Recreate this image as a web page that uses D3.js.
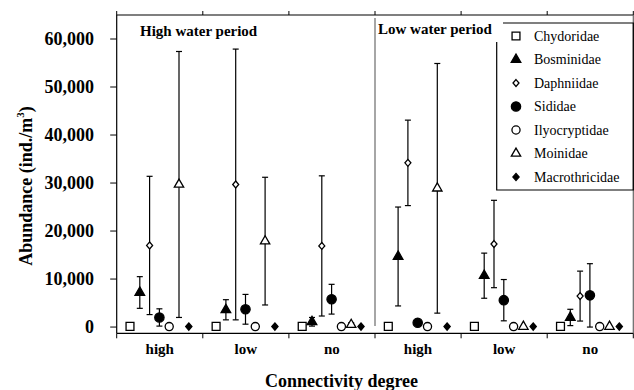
<!DOCTYPE html>
<html>
<head>
<meta charset="utf-8">
<script src="https://cdn.jsdelivr.net/npm/d3@7"></script>
<style>
  body { margin: 0; background: #fff; }
  svg { display: block; font-family: "Liberation Serif", "Times New Roman", serif; }
</style>
</head>
<body>
<div id="chart"></div>
<script>
// categories
const periods = ["High water period", "Low water period"];
const connectivity = ["high", "low", "no"];
const families = ["Chydoridae", "Bosminidae", "Daphniidae", "Sididae", "Ilyocryptidae", "Moinidae", "Macrothricidae"];
const yTicks = [0, 10000, 20000, 30000, 40000, 50000, 60000];

// mean abundance per group: HW high, HW low, HW no, LW high, LW low, LW no
const chydoridaeMean     = [150, 150, 150, 150, 150, 150];
const chydoridaeErr      = [0, 0, 0, 0, 0, 0];
const bosminidaeMean     = [7200, 3600, 1100, 14700, 10700, 2000];
const bosminidaeErr      = [3300, 2100, 900, 10300, 4700, 1700];
const daphniidaeMean     = [17000, 29700, 16900, 34200, 17300, 6450];
const daphniidaeErr      = [14400, 28200, 14600, 8900, 9100, 5200];
const sididaeMean        = [2000, 3700, 5800, 900, 5600, 6600];
const sididaeErr         = [1800, 3100, 3100, 0, 4300, 6600];
const ilyocryptidaeMean  = [100, 100, 100, 100, 100, 100];
const ilyocryptidaeErr   = [0, 0, 0, 0, 0, 0];
const moinidaeMean       = [29700, 17900, 500, 28900, 100, 100];
const moinidaeErr        = [27700, 13300, 400, 26000, 0, 0];
const macrothricidaeMean = [100, 100, 100, 100, 100, 100];
const macrothricidaeErr  = [0, 0, 0, 0, 0, 0];

const means = [chydoridaeMean, bosminidaeMean, daphniidaeMean, sididaeMean, ilyocryptidaeMean, moinidaeMean, macrothricidaeMean];
const errs = [chydoridaeErr, bosminidaeErr, daphniidaeErr, sididaeErr, ilyocryptidaeErr, moinidaeErr, macrothricidaeErr];

const width = 634, height = 390;
const plotLeft = 116.7, plotRight = 633.3, plotTop = 15, plotBottom = 333.3;

const groups = [];
periods.forEach(p => connectivity.forEach(c => groups.push(p + "|" + c)));

const x = d3.scaleBand().domain(groups).range([plotLeft, plotRight]);
const xi = d3.scalePoint().domain(families).range([13.3, 72.1]);
const y = d3.scaleLinear().domain([-1300, 65000]).range([plotBottom, plotTop]);

// rows for every point
const rows = [];
families.forEach((f, fi) => {
    groups.forEach((g, gi) => {
        rows.push({ family: f, group: g, mean: means[fi][gi], err: errs[fi][gi] });
    });
});

// marker shapes
const diamond = {
    draw(ctx, size) {
        const w = Math.sqrt(size) * 0.45, h = Math.sqrt(size) * 0.52;
        ctx.moveTo(0, -h); ctx.lineTo(w, 0); ctx.lineTo(0, h); ctx.lineTo(-w, 0); ctx.closePath();
    }
};
const style = {
    "Chydoridae":     { type: d3.symbolSquare,   size: 62, fill: "#fff" },
    "Bosminidae":     { type: d3.symbolTriangle, size: 40, fill: "#000" },
    "Daphniidae":     { type: diamond,           size: 44, fill: "#fff" },
    "Sididae":        { type: d3.symbolCircle,   size: 68, fill: "#000" },
    "Ilyocryptidae":  { type: d3.symbolCircle,   size: 52, fill: "#fff" },
    "Moinidae":       { type: d3.symbolTriangle, size: 38, fill: "#fff" },
    "Macrothricidae": { type: diamond,           size: 48, fill: "#000" }
};
const symbolPath = f => d3.symbol().type(style[f].type).size(style[f].size)();

const svg = d3.select("#chart").append("svg")
    .attr("width", width)
    .attr("height", height);

// frame
svg.append("line").attr("x1", plotLeft).attr("x2", plotRight).attr("y1", plotTop).attr("y2", plotTop)
    .attr("stroke", "#000").attr("stroke-width", 1.2);
svg.append("line").attr("x1", plotLeft).attr("x2", plotRight).attr("y1", plotBottom).attr("y2", plotBottom)
    .attr("stroke", "#000").attr("stroke-width", 1.2);
svg.append("line").attr("x1", plotLeft).attr("x2", plotLeft).attr("y1", plotTop).attr("y2", plotBottom)
    .attr("stroke", "#000").attr("stroke-width", 1.2);
svg.append("line").attr("x1", plotRight).attr("x2", plotRight).attr("y1", plotTop).attr("y2", plotBottom)
    .attr("stroke", "#666").attr("stroke-width", 1.2);

// group boundary ticks (top and bottom)
const bounds = groups.map(g => x(g)).concat([plotRight]);
svg.selectAll(".tb").data(bounds).enter().append("line")
    .attr("x1", d => d).attr("x2", d => d).attr("y1", plotBottom).attr("y2", plotBottom + 5)
    .attr("stroke", "#000").attr("stroke-width", 1);
svg.selectAll(".tt").data(bounds).enter().append("line")
    .attr("x1", d => d).attr("x2", d => d).attr("y1", plotTop - 4).attr("y2", plotTop)
    .attr("stroke", "#000").attr("stroke-width", 1);

// period separator
svg.append("line")
    .attr("x1", x(groups[3])).attr("x2", x(groups[3]))
    .attr("y1", plotTop + 3).attr("y2", y(0) - 1)
    .attr("stroke", "#888").attr("stroke-width", 1.5);

// y axis
const yAxis = svg.append("g");
yAxis.selectAll("line").data(yTicks).enter().append("line")
    .attr("x1", plotLeft - 6.5).attr("x2", plotLeft)
    .attr("y1", d => y(d)).attr("y2", d => y(d))
    .attr("stroke", "#000").attr("stroke-width", 1);
yAxis.selectAll("text").data(yTicks).enter().append("text")
    .attr("x", 94).attr("y", d => y(d)).attr("dy", "0.35em")
    .attr("text-anchor", "end")
    .attr("font-size", 18).attr("font-weight", "bold")
    .text(d3.format(","));

// x tick labels
svg.selectAll(".xl").data(groups).enter().append("text")
    .attr("x", d => x(d) + x.bandwidth() / 2)
    .attr("y", 354)
    .attr("text-anchor", "middle")
    .attr("font-size", 15).attr("font-weight", "bold")
    .text(d => d.split("|")[1]);

// axis titles
svg.append("text")
    .attr("x", 341.5).attr("y", 387)
    .attr("text-anchor", "middle")
    .attr("font-size", 18).attr("font-weight", "bold")
    .text("Connectivity degree");

const yt = svg.append("text")
    .attr("transform", "translate(32,186) rotate(-90)")
    .attr("text-anchor", "middle")
    .attr("font-size", 18).attr("font-weight", "bold");
yt.append("tspan").text("Abundance (ind./m");
yt.append("tspan").attr("font-size", 11).attr("dy", -8).text("3");
yt.append("tspan").attr("dy", 8).text(")");

// error bars
const eb = svg.append("g").selectAll("g")
    .data(rows.filter(d => d.err > 0)).enter().append("g")
    .attr("stroke", "#000").attr("stroke-width", 1.2);
eb.append("line")
    .attr("x1", d => x(d.group) + xi(d.family)).attr("x2", d => x(d.group) + xi(d.family))
    .attr("y1", d => y(d.mean + d.err)).attr("y2", d => y(Math.max(0, d.mean - d.err)));
eb.append("line")
    .attr("x1", d => x(d.group) + xi(d.family) - 3).attr("x2", d => x(d.group) + xi(d.family) + 3)
    .attr("y1", d => y(d.mean + d.err)).attr("y2", d => y(d.mean + d.err));
eb.append("line")
    .attr("x1", d => x(d.group) + xi(d.family) - 3).attr("x2", d => x(d.group) + xi(d.family) + 3)
    .attr("y1", d => y(Math.max(0, d.mean - d.err))).attr("y2", d => y(Math.max(0, d.mean - d.err)));

// markers
svg.append("g").selectAll("path")
    .data(rows).enter().append("path")
    .attr("d", d => symbolPath(d.family))
    .attr("transform", d => `translate(${x(d.group) + xi(d.family)},${y(d.mean)})`)
    .attr("fill", d => style[d.family].fill)
    .attr("stroke", "#000").attr("stroke-width", 1.3);

// legend
svg.append("rect").attr("x", 497.5).attr("y", 24).attr("width", 134.5).attr("height", 165).attr("fill", "#fff");
svg.append("path")
    .attr("d", `M503,23H${plotRight}V190H496.7V42`)
    .attr("fill", "none").attr("stroke", "#000").attr("stroke-width", 1.2);
const lg = svg.append("g").selectAll("g")
    .data(families).enter().append("g")
    .attr("transform", (d, i) => `translate(516,${36 + i * 23.5})`);
lg.append("path")
    .attr("d", d => symbolPath(d))
    .attr("fill", d => style[d].fill)
    .attr("stroke", "#000").attr("stroke-width", 1.3);
lg.append("text")
    .attr("x", 18).attr("dy", "0.35em")
    .attr("font-size", 14)
    .text(d => d);

// period labels
svg.append("text")
    .attr("x", 140).attr("y", 35.5)
    .attr("font-size", 15).attr("font-weight", "bold")
    .text(periods[0]);
svg.append("text")
    .attr("x", 378).attr("y", 33.5)
    .attr("font-size", 15).attr("font-weight", "bold")
    .text(periods[1]);
</script>
</body>
</html>
